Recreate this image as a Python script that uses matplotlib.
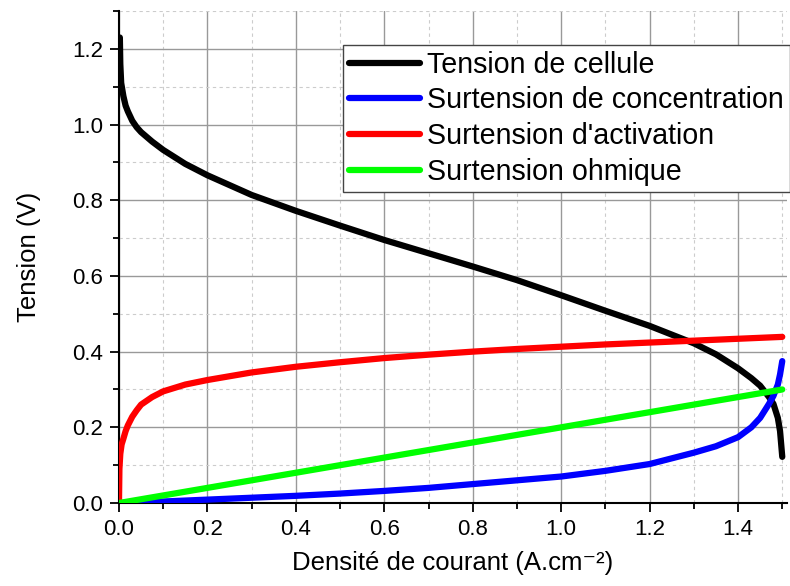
import matplotlib
matplotlib.use("Agg")
import matplotlib.pyplot as plt
from matplotlib.ticker import MultipleLocator

plt.rcParams['font.family'] = ['Liberation Sans', 'DejaVu Sans']

# Cell voltage
x_cell = [0.002, 0.003, 0.005, 0.01, 0.015, 0.02, 0.03, 0.04, 0.05, 0.075, 0.1, 0.15,
          0.2, 0.3, 0.4, 0.5, 0.6, 0.7, 0.8, 0.9, 1.0, 1.1, 1.2, 1.3, 1.35, 1.4, 1.43,
          1.45, 1.47, 1.48, 1.49, 1.495, 1.5]
v_cell = [1.23, 1.16, 1.11, 1.075, 1.05, 1.035, 1.01, 0.993, 0.98, 0.955, 0.933, 0.896,
          0.866, 0.814, 0.772, 0.733, 0.695, 0.660, 0.625, 0.589, 0.549, 0.508, 0.468,
          0.422, 0.393, 0.356, 0.33, 0.31, 0.28, 0.262, 0.225, 0.19, 0.122]

# Concentration overpotential
x_conc = [0.0, 0.1, 0.2, 0.3, 0.4, 0.5, 0.6, 0.7, 0.8, 0.9, 1.0, 1.1, 1.2, 1.3, 1.35,
          1.4, 1.43, 1.45, 1.47, 1.48, 1.49, 1.495, 1.5]
v_conc = [0.0, 0.004, 0.009, 0.014, 0.019, 0.025, 0.032, 0.04, 0.05, 0.06, 0.07, 0.085,
          0.103, 0.133, 0.15, 0.174, 0.2, 0.225, 0.262, 0.283, 0.313, 0.34, 0.375]

# Activation overpotential
x_act = [0.0, 0.001, 0.003, 0.006, 0.01, 0.015, 0.02, 0.03, 0.04, 0.05, 0.075, 0.1, 0.15,
         0.2, 0.3, 0.4, 0.5, 0.6, 0.7, 0.8, 0.9, 1.0, 1.1, 1.2, 1.3, 1.4, 1.5]
v_act = [0.0, 0.09, 0.13, 0.155, 0.17, 0.19, 0.205, 0.228, 0.245, 0.26, 0.28, 0.295,
         0.313, 0.325, 0.345, 0.36, 0.372, 0.383, 0.392, 0.4, 0.407, 0.413, 0.419, 0.424,
         0.429, 0.434, 0.439]

# Ohmic overpotential
x_ohm = [0.0, 0.5, 1.0, 1.5]
v_ohm = [0.0, 0.1, 0.2, 0.3]

labels = ["Tension de cellule", "Surtension de concentration",
          "Surtension d'activation", "Surtension ohmique"]
colors = ["#000000", "#0000ff", "#ff0000", "#00ff00"]

fig = plt.figure(figsize=(7.9, 5.86), dpi=100)
ax = fig.add_axes([0.1506, 0.1416, 0.8452, 0.8396])

series = [(x_cell, v_cell), (x_conc, v_conc), (x_act, v_act), (x_ohm, v_ohm)]
for (xs, ys), lab, c in zip(series, labels, colors):
    ax.plot(xs, ys, color=c, lw=4.5, label=lab, solid_capstyle='round',
            solid_joinstyle='round', zorder=3)

ax.set_xlim(0, 1.51)
ax.set_ylim(0, 1.30)
ax.xaxis.set_major_locator(MultipleLocator(0.2))
ax.xaxis.set_minor_locator(MultipleLocator(0.1))
ax.yaxis.set_major_locator(MultipleLocator(0.2))
ax.yaxis.set_minor_locator(MultipleLocator(0.1))
ax.xaxis.set_major_formatter(plt.FuncFormatter(lambda v, p: f"{v:.1f}"))
ax.yaxis.set_major_formatter(plt.FuncFormatter(lambda v, p: f"{v:.1f}"))

ax.grid(which='major', color='#999999', lw=1.0, ls='-')
ax.grid(which='minor', color='#cccccc', lw=0.8, ls=(0, (3, 3)))
ax.set_axisbelow(True)

for s in ['top', 'right']:
    ax.spines[s].set_visible(False)
for s in ['left', 'bottom']:
    ax.spines[s].set_linewidth(1.5)

ax.tick_params(which='major', direction='out', length=6.5, width=1.3, labelsize=16, pad=5)
ax.tick_params(which='minor', direction='out', length=4.3, width=1.3)

ax.set_xlabel("Densité de courant (A.cm\u207b\u00b2)", fontsize=18.5, labelpad=8)
ax.set_ylabel("Tension (V)", fontsize=18.5, labelpad=22)

leg = fig.legend(loc='upper left', bbox_to_anchor=(343 / 790, 1 - 45 / 586),
                 fontsize=20.6, frameon=True, fancybox=False, framealpha=1,
                 edgecolor='#444444', borderpad=0.2, labelspacing=0.27,
                 handlelength=2.5, handletextpad=0.25, borderaxespad=0)
leg.get_frame().set_linewidth(1.0)

fig.savefig("out.png", dpi=100)
